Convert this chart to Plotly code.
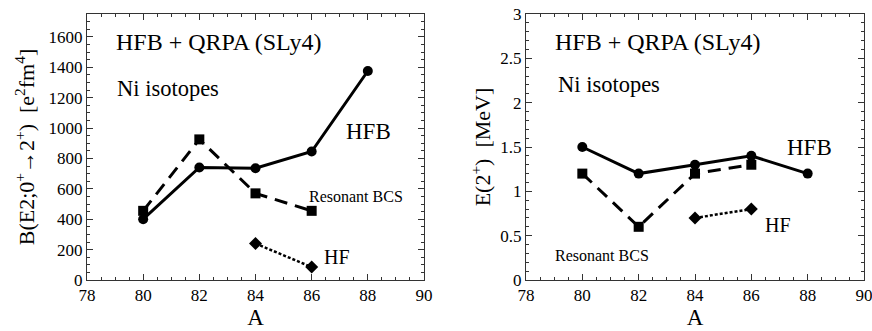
import plotly.graph_objects as go
from plotly.subplots import make_subplots

# Ni isotopes, HFB + QRPA (SLy4)
A_hfb = [80, 82, 84, 86, 88]
A_bcs = [80, 82, 84, 86]
A_hf = [84, 86]

be2_hfb = [400, 740, 735, 845, 1375]
be2_bcs = [455, 925, 570, 455]
be2_hf = [240, 85]

e2_hfb = [1.5, 1.2, 1.3, 1.4, 1.2]
e2_bcs = [1.2, 0.6, 1.2, 1.3]
e2_hf = [0.7, 0.8]

x_ticks = [78, 80, 82, 84, 86, 88, 90]

FONT = "Liberation Serif, Times New Roman, serif"

fig = make_subplots(rows=1, cols=2)


def add_series(col, hfb, bcs, hf):
    fig.add_trace(go.Scatter(x=A_hfb, y=hfb, mode="lines+markers",
                             line=dict(color="black", width=3),
                             marker=dict(symbol="circle", size=10, color="black")),
                  row=1, col=col)
    fig.add_trace(go.Scatter(x=A_bcs, y=bcs, mode="lines+markers",
                             line=dict(color="black", width=3, dash="13px,8px"),
                             marker=dict(symbol="square", size=10, color="black")),
                  row=1, col=col)
    fig.add_trace(go.Scatter(x=A_hf, y=hf, mode="lines+markers",
                             line=dict(color="black", width=2.5, dash="3px,2px"),
                             marker=dict(symbol="diamond", size=10, color="black")),
                  row=1, col=col)


add_series(1, be2_hfb, be2_bcs, be2_hf)
add_series(2, e2_hfb, e2_bcs, e2_hf)

axis_style = dict(showline=True, linecolor="#333", linewidth=1, mirror="ticks",
                  ticks="inside", ticklen=6, tickcolor="#333", showgrid=False,
                  zeroline=False, automargin=False, ticklabeloverflow="allow",
                  tickfont=dict(family=FONT, size=17, color="black"))

L_END = (424 - 87) / 777
R_START = (526 - 87) / 777

for col, dom in [(1, [0, L_END]), (2, [R_START, 1])]:
    fig.update_xaxes(range=[78, 90], tickvals=x_ticks, domain=dom,
                     minor=dict(dtick=0.5, ticks="inside", ticklen=3, tickcolor="#333"),
                     title=dict(text="A", font=dict(family=FONT, size=23, color="black"),
                                standoff=0),
                     row=1, col=col, **axis_style)

fig.update_yaxes(range=[0, 1750], dtick=200, tick0=0,
                 minor=dict(dtick=50, ticks="inside", ticklen=3, tickcolor="#333"),
                 title=dict(text="B(E2;0<sup>+</sup>→2<sup>+</sup>)  [e<sup>2</sup>fm<sup>4</sup>]",
                            font=dict(family=FONT, size=22, color="black"), standoff=7),
                 row=1, col=1, **axis_style)
fig.update_yaxes(range=[0, 3], dtick=0.5, tick0=0,
                 minor=dict(dtick=0.1, ticks="inside", ticklen=3, tickcolor="#333"),
                 title=dict(text="E(2<sup>+</sup>)  [MeV]",
                            font=dict(family=FONT, size=22, color="black"), standoff=3),
                 row=1, col=2, **axis_style)


def label(text, x, y, xref, yref, size):
    fig.add_annotation(text=text, x=x, y=y, xref=xref, yref=yref, showarrow=False,
                       xanchor="left", yanchor="middle",
                       font=dict(family=FONT, size=size, color="black"))


label("HFB + QRPA (SLy4)", 78.95, 1566, "x", "y", 24)
label("Ni isotopes", 79.0, 1263, "x", "y", 22.5)
label("HFB", 87.15, 975, "x", "y", 23)
label("Resonant BCS", 85.85, 549, "x", "y", 16)
label("HF", 86.35, 151, "x", "y", 20)

label("HFB + QRPA (SLy4)", 78.95, 2.68, "x2", "y2", 24)
label("Ni isotopes", 79.05, 2.2, "x2", "y2", 22.5)
label("HFB", 87.2, 1.5, "x2", "y2", 23)
label("Resonant BCS", 78.95, 0.28, "x2", "y2", 16)
label("HF", 86.4, 0.62, "x2", "y2", 20)

fig.update_layout(width=872, height=331, showlegend=False,
                  margin=dict(l=87, r=8, t=14, b=51, autoexpand=False),
                  paper_bgcolor="white", plot_bgcolor="white")

# drop the page's default body margin so the figure fills the window
fig.write_html("out.html", config={"displayModeBar": False},
               post_script="document.body.style.margin='0';")
